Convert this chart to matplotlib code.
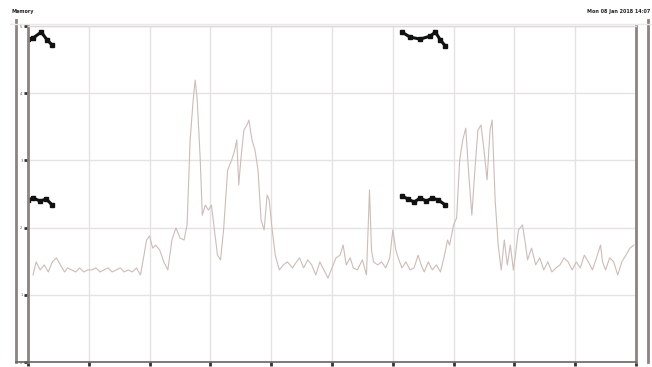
import matplotlib
matplotlib.use("Agg")
import matplotlib.pyplot as plt
from matplotlib.lines import Line2D

# memory usage trace (seconds, percent)
t = [5, 8, 12, 16, 20, 24, 28, 32, 36, 39, 43, 47, 51, 55, 59, 63, 67, 71, 75, 79,
     83, 87, 91, 95, 99, 103, 107, 111, 114, 117, 120, 123, 126, 130, 134, 138, 142, 146, 150, 154,
     157, 160, 163, 165, 167, 170, 172, 175, 178, 181, 184, 187, 190, 193, 197, 201, 204, 206, 208, 210,
     213, 216, 218, 221, 224, 227, 230, 233, 236, 238, 241, 244, 248, 252, 256, 261, 265, 268, 272, 276,
     280, 284, 288, 292, 296, 300, 304, 308, 311, 314, 318, 321, 325, 330, 334, 337, 339, 341, 345, 349,
     353, 357, 360, 363, 366, 369, 373, 377, 381, 385, 388, 391, 395, 399, 403, 407, 411, 414, 416, 420,
     423, 426, 429, 432, 435, 438, 441, 444, 447, 450, 453, 456, 458, 461, 464, 467, 470, 473, 476, 479,
     481, 484, 488, 491, 493, 497, 501, 505, 509, 513, 517, 521, 525, 529, 533, 537, 541, 545, 549, 553,
     557, 561, 565, 567, 570, 574, 578, 582, 586, 590, 594, 598]
mem = [25.9, 29.8, 27.4, 28.9, 26.8, 29.8, 31.0, 28.9, 26.8, 28.0, 27.4, 26.8, 28.0, 26.8, 27.4, 27.4, 28.0, 26.8, 27.4, 28.0,
       26.8, 27.4, 28.0, 26.8, 27.4, 26.8, 28.0, 25.9, 31.0, 36.3, 37.5, 33.9, 34.8, 33.3, 29.8, 27.4, 36.3, 39.9, 36.9, 36.3,
       40.8, 66.1, 78.0, 83.9, 78.0, 60.1, 43.7, 46.7, 45.2, 46.7, 39.3, 31.8, 30.4, 39.3, 57.1, 60.1, 63.1, 66.1, 52.7, 60.1,
       69.0, 70.5, 72.0, 66.1, 63.1, 57.1, 42.3, 39.3, 49.7, 48.2, 39.3, 31.8, 27.4, 28.9, 29.8, 28.0, 29.8, 31.0, 28.0, 30.4,
       28.9, 25.9, 29.8, 27.4, 25.0, 28.0, 31.0, 31.8, 34.8, 28.9, 31.0, 28.0, 27.4, 30.4, 25.9, 51.2, 33.3, 29.8, 28.9, 29.8,
       28.0, 31.0, 39.3, 33.3, 30.4, 28.0, 29.8, 27.4, 28.0, 31.8, 28.9, 26.8, 29.8, 27.4, 28.9, 26.8, 31.8, 36.3, 34.8, 40.8,
       42.9, 60.1, 66.1, 69.6, 55.7, 43.7, 57.1, 69.0, 70.5, 63.1, 54.2, 69.0, 72.0, 48.2, 34.8, 27.4, 36.3, 28.9, 34.8, 27.4,
       31.8, 39.3, 40.8, 34.8, 30.4, 33.9, 28.9, 31.0, 27.4, 29.8, 26.8, 28.0, 28.9, 31.0, 29.8, 27.4, 29.8, 28.0, 31.8, 29.8,
       27.4, 31.0, 34.8, 29.8, 27.4, 31.0, 29.8, 25.9, 29.8, 31.8, 33.9, 34.8]

# small black marker glyphs
g1_t = [0, 5, 13, 19, 24]
g1_v = [96.1, 96.4, 98.2, 95.8, 94.3]
g2_t = [369, 377, 387, 397, 402, 407, 412]
g2_v = [98.2, 96.7, 96.1, 97.0, 98.2, 95.8, 94.0]
g3_t = [0, 5, 12, 18, 24]
g3_v = [48.2, 48.8, 47.9, 48.5, 46.7]
g4_t = [369, 375, 381, 387, 393, 399, 405, 412]
g4_v = [49.4, 48.5, 47.6, 48.8, 47.9, 48.8, 48.2, 46.7]

x_ticks = list(range(0, 601, 60))
y_ticks = [0, 20, 40, 60, 80, 100]

fig = plt.figure(figsize=(6.52, 3.67), dpi=100)
fig.patch.set_facecolor("white")
ax = fig.add_axes([28 / 652, 5 / 367, 608 / 652, 336 / 367])

ax.plot(t, mem, color="#cdbcb8", lw=0.8)
for gt, gv in [(g1_t, g1_v), (g2_t, g2_v), (g3_t, g3_v), (g4_t, g4_v)]:
    ax.plot(gt, gv, color="#111111", lw=2.2, marker="s", ms=3.2, solid_capstyle="round")

ax.set_xlim(0, 600)
ax.set_ylim(0, 100)
ax.set_xticks(x_ticks)
ax.set_yticks(y_ticks)
ax.grid(True, color="#e6e2e1", lw=1.0)
ax.set_axisbelow(True)
ax.tick_params(axis="both", length=3, width=2, color="#333333", labelsize=2.5,
               labelcolor="#555555", pad=1)
ax.set_xticklabels([])
ax.set_yticklabels(["0", "1", "2", "3", "4", "5"])

for side in ["left", "right"]:
    ax.spines[side].set_color("#8d8380")
    ax.spines[side].set_linewidth(2.0)
ax.spines["bottom"].set_color("#6a6462")
ax.spines["bottom"].set_linewidth(1.2)
ax.spines["top"].set_color("#dcd8d7")
ax.spines["top"].set_linewidth(1.0)

# extra outer axis lines
fig.add_artist(Line2D([16 / 652, 16 / 652], [5 / 367, 347 / 367], color="#8d8380", lw=2.0))
fig.add_artist(Line2D([16 / 652, 28 / 652], [5 / 367, 5 / 367], color="#6a6462", lw=1.2))
fig.add_artist(Line2D([648 / 652, 648 / 652], [5 / 367, 347 / 367], color="#8d8380", lw=2.0))
fig.add_artist(Line2D([10 / 652, 1.0], [343 / 367, 343 / 367], color="#ebe8e7", lw=1.0))

fig.text(11 / 652, 354 / 367, "Memory", fontsize=3.5, fontweight="bold", color="#222222")
fig.text(650 / 652, 354 / 367, "Mon 08 Jan 2018 14:07", fontsize=3.5, fontweight="bold",
         color="#222222", ha="right")

fig.savefig("out.png", dpi=100, facecolor="white")
